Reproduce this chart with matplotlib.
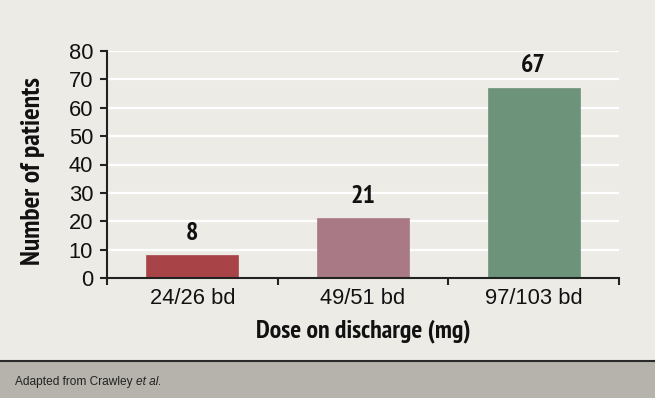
import matplotlib
matplotlib.use("Agg")
import matplotlib.pyplot as plt
from matplotlib.patches import Rectangle
import matplotlib.lines as mlines
from matplotlib import font_manager

categories = ["24/26 bd", "49/51 bd", "97/103 bd"]
values = [8, 21, 67]
colors = ["#a84448", "#a97a86", "#6d937a"]
yticks = [0, 10, 20, 30, 40, 50, 60, 70, 80]

names = {f.name for f in font_manager.fontManager.ttflist}
def pick(cands, default):
    for c in cands:
        if c in names:
            return c
    return default
cond = pick(["PT Sans Narrow", "Liberation Sans Narrow", "Open Sans Condensed",
             "Roboto Condensed", "DejaVu Sans Condensed"], "Roboto")
foot = "Liberation Sans"
reg = "Liberation Sans"

W, H = 655, 398
fig = plt.figure(figsize=(W / 100, H / 100), dpi=100)
fig.patch.set_facecolor("#edebe6")
renderer = fig.canvas.get_renderer()

def fit_size(txt, target_px, size, **kw):
    t = fig.text(0, 0, txt, fontsize=size, **kw)
    w = t.get_window_extent(renderer).width
    t.remove()
    return size * target_px / w

# footer band
fig.add_artist(Rectangle((0, 0), 1, 37 / H, transform=fig.transFigure,
                         facecolor="#b6b3ac", edgecolor="none", zorder=0))
fig.add_artist(mlines.Line2D([0, 1], [37 / H, 37 / H], transform=fig.transFigure,
                             color="#2a2a2a", lw=1.5))
fs = fit_size("Adapted from Crawley et al.", 148, 10, family=foot)
base = fig.text(15 / W, 16 / H, "Adapted from Crawley ", fontsize=fs, color="#222222",
                family=foot, va="center", ha="left")
bb = base.get_window_extent(renderer)
fig.text(bb.x1 / W, 16 / H, "et al.", fontsize=fs, color="#222222", style="italic",
         family=foot, va="center", ha="left")

left, right = 107, 619
top, bottom = 51, 278
ax = fig.add_axes([left / W, 1 - bottom / H, (right - left) / W, (bottom - top) / H])
ax.set_facecolor("#edebe6")
ax.set_xlim(-0.5, 2.5)
ax.set_ylim(0, 80)

for y in yticks[1:]:
    ax.axhline(y, color="white", lw=1.6, zorder=1)

x = list(range(len(categories)))
ax.bar(x, values, width=0.54, color=colors, zorder=2, edgecolor=colors, linewidth=0.5)
vs = fit_size("67", 25, 15, fontweight="bold", family=cond)
for xi, v in zip(x, values):
    ax.annotate(str(v), (xi, v), xytext=(0, 7.5), textcoords="offset points",
                ha="center", va="bottom", fontsize=vs, fontweight="bold",
                family=cond, color="#111111")

for s in ["top", "right"]:
    ax.spines[s].set_visible(False)
for s in ["left", "bottom"]:
    ax.spines[s].set_color("#222222")
    ax.spines[s].set_linewidth(1.5)

ts = fit_size("24/26 bd", 85, 15, family=reg)
ax.set_yticks(yticks)
ax.set_yticklabels([str(v) for v in yticks], fontsize=ts, family=reg, color="#111111")
ax.tick_params(axis="y", length=5, width=1.5, color="#222222", pad=5)

ax.set_xticks([-0.5, 0.5, 1.5, 2.5])
ax.set_xticklabels([])
ax.set_xticks(x, minor=True)
ax.set_xticklabels(categories, minor=True, fontsize=ts, family=reg, color="#111111")
ax.tick_params(axis="x", which="major", length=5, width=1.5, color="#222222")
ax.tick_params(axis="x", which="minor", length=0, pad=7)

xs = fit_size("Dose on discharge (mg)", 215, 15, fontweight="bold", family=cond)
ys = fit_size("Number of patients", 188, 15, fontweight="bold", family=cond)
ax.set_xlabel("Dose on discharge (mg)", fontsize=xs, fontweight="bold",
              family=cond, color="#111111")
ax.xaxis.set_label_coords(0.5, -(331 - bottom) / (bottom - top))
ax.xaxis.label.set_va("center")
ax.set_ylabel("Number of patients", fontsize=ys, fontweight="bold",
              family=cond, color="#111111")
ax.yaxis.set_label_coords((33 - left) / (right - left), 0.5 - (171 - (top + bottom) / 2) / (bottom - top))
ax.yaxis.label.set_va("center")

fig.savefig("out.png", dpi=100, facecolor=fig.get_facecolor())
